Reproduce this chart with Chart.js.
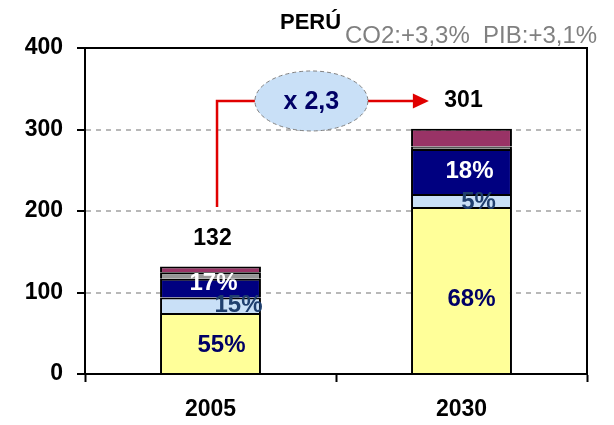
<!DOCTYPE html>
<html>
<head>
<meta charset="utf-8">
<script src="https://cdn.jsdelivr.net/npm/chart.js@4"></script>
<style>
  body { margin: 0; background: #fff; }
  #caixa { width: 614px; height: 425px; position: relative; }
</style>
</head>
<body>
<div id="caixa"><canvas id="grafico"></canvas></div>
<script>
// dados do gráfico (segmentos de baixo para cima)
const anos = ["2005", "2030"];
const amarelo = [75, 205];
const azulClaro = [19, 16];
const azulEscuro = [23, 55];
const cinza = [8, 3];
const grena = [7, 22];
const totais = ["132", "301"];
const pctAmarelo = ["55%", "68%"];
const pctAzulClaro = ["15%", "5%"];
const pctAzulEscuro = ["17%", "18%"];
const titulo = "PERÚ";
const subtitulo = "CO2:+3,3%  PIB:+3,1%";
const fator = "x 2,3";

const fonte = "'Liberation Sans', Arial, sans-serif";

// deslocamentos dos rótulos (estilo, não dados)
const rotulos = [
  { ds: 0, textos: pctAmarelo, cor: "#000066", desl: [[11, 2], [10, 9]] },
  { ds: 1, textos: pctAzulClaro, cor: "#1F3F6E", desl: [[28, 0], [17, 2]] },
  { ds: 2, textos: pctAzulEscuro, cor: "#FFFFFF", desl: [[3, -5], [8, 0]] },
];

const pluginRotulos = {
  id: "rotulos",
  afterDatasetsDraw(chart) {
    const ctx = chart.ctx;
    ctx.save();
    ctx.textAlign = "center";
    ctx.textBaseline = "middle";
    ctx.font = "bold 24px " + fonte;
    rotulos.forEach((r) => {
      const meta = chart.getDatasetMeta(r.ds);
      meta.data.forEach((el, i) => {
        ctx.fillStyle = r.cor;
        ctx.fillText(r.textos[i], el.x + r.desl[i][0], (el.y + el.base) / 2 + r.desl[i][1]);
      });
    });
    // totais acima das barras
    const topo = chart.getDatasetMeta(4);
    ctx.fillStyle = "#000";
    ctx.font = "bold 23px " + fonte;
    topo.data.forEach((el, i) => {
      ctx.fillText(totais[i], el.x + 2, el.y - 28);
    });

    // seta com o fator de crescimento
    const xs = chart.scales.x, ys = chart.scales.y;
    const xV = xs.getPixelForValue(0.026);
    const yS = ys.getPixelForValue(335);
    const yB = ys.getPixelForValue(205);
    const xE = xs.getPixelForValue(0.402);
    const xP = xs.getPixelForValue(0.87);
    const rx = 56.5, ry = 30;
    ctx.strokeStyle = "#E00000";
    ctx.lineWidth = 2.5;
    ctx.beginPath();
    ctx.moveTo(xV, yB);
    ctx.lineTo(xV, yS);
    ctx.lineTo(xE - rx, yS);
    ctx.moveTo(xE + rx, yS);
    ctx.lineTo(xP - 15, yS);
    ctx.stroke();
    ctx.fillStyle = "#E00000";
    ctx.beginPath();
    ctx.moveTo(xP, yS);
    ctx.lineTo(xP - 16, yS - 7.5);
    ctx.lineTo(xP - 16, yS + 7.5);
    ctx.closePath();
    ctx.fill();

    ctx.beginPath();
    ctx.ellipse(xE, yS, rx, ry, 0, 0, Math.PI * 2);
    ctx.fillStyle = "#C9E0F7";
    ctx.fill();
    ctx.setLineDash([4, 3]);
    ctx.lineWidth = 1;
    ctx.strokeStyle = "#808080";
    ctx.stroke();
    ctx.setLineDash([]);
    ctx.fillStyle = "#000066";
    ctx.font = "bold 25px " + fonte;
    ctx.fillText(fator, xE, yS + 1);
    ctx.restore();
  },
  afterDraw(chart) {
    const ctx = chart.ctx;
    const a = chart.chartArea;
    ctx.save();
    // moldura superior e direita
    ctx.strokeStyle = "#000";
    ctx.lineWidth = 2;
    ctx.beginPath();
    ctx.moveTo(a.left, a.top);
    ctx.lineTo(a.right, a.top);
    ctx.lineTo(a.right, a.bottom);
    ctx.stroke();
    // título
    ctx.textBaseline = "alphabetic";
    ctx.fillStyle = "#000";
    ctx.font = "bold 22px " + fonte;
    ctx.fillText(titulo, 280, 29);
    ctx.fillStyle = "#808080";
    ctx.font = "24px " + fonte;
    ctx.fillText(subtitulo, 345, 43);
    ctx.restore();
  },
};

const ctx = document.getElementById("grafico");

const chart = new Chart(ctx, {
  type: "bar",
  data: {
    labels: anos,
    datasets: [
      { label: "amarelo", data: amarelo, backgroundColor: "#FFFF99" },
      { label: "azul claro", data: azulClaro, backgroundColor: "#C9E0F7" },
      { label: "azul escuro", data: azulEscuro, backgroundColor: "#000080" },
      { label: "cinza", data: cinza, backgroundColor: "#969696" },
      { label: "grena", data: grena, backgroundColor: "#993366" },
    ].map((d) => ({
      ...d,
      borderColor: "#000",
      borderWidth: 2,
      borderSkipped: "start",
      barPercentage: 0.402,
      categoryPercentage: 1,
    })),
  },
  options: {
    responsive: true,
    maintainAspectRatio: false,
    animation: false,
    layout: { padding: { top: 48, right: 27, left: 0, bottom: 0 } },
    plugins: { legend: { display: false }, tooltip: { enabled: false } },
    scales: {
      x: {
        stacked: true,
        afterFit: (s) => { s.height = 51; },
        grid: {
          offset: true,
          drawOnChartArea: false,
          tickLength: 8,
          tickColor: "#000",
          tickWidth: 2,
        },
        border: { color: "#000", width: 2 },
        ticks: { color: "#000", padding: 14, font: { family: fonte, size: 23, weight: "bold" } },
      },
      y: {
        stacked: true,
        min: 0,
        max: 400,
        afterFit: (s) => { s.width = 85; },
        grid: {
          color: (c) => (c.tick && (c.tick.value === 0 || c.tick.value === 400) ? "rgba(0,0,0,0)" : "#B8B8B8"),
          lineWidth: 2,
          tickLength: 8,
          tickColor: "#000",
          tickWidth: 2,
        },
        border: { color: "#000", width: 2, dash: [5, 5] },
        ticks: { stepSize: 100, color: "#000", padding: 14, font: { family: fonte, size: 23, weight: "bold" } },
      },
    },
  },
  plugins: [pluginRotulos],
});
</script>
</body>
</html>
